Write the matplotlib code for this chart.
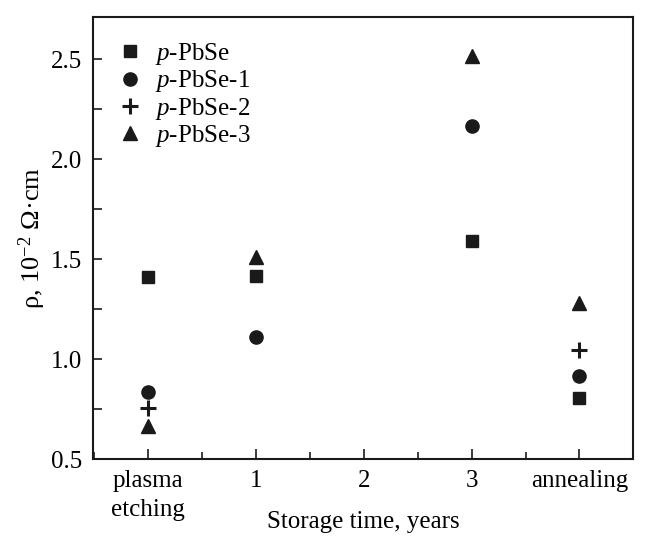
import matplotlib
matplotlib.use("Agg")
import matplotlib.pyplot as plt
from matplotlib.ticker import MultipleLocator

plt.rcParams['font.family'] = ['Liberation Serif', 'DejaVu Serif']
plt.rcParams['mathtext.fontset'] = 'custom'
plt.rcParams['mathtext.rm'] = 'Liberation Serif'
plt.rcParams['mathtext.it'] = 'Liberation Serif:italic'

categories = ["plasma\netching", "1", "2", "3", "annealing"]
x_pbse = [0, 1, 3, 4]
y_pbse = [1.41, 1.415, 1.59, 0.805]
x_pbse1 = [0, 1, 3, 4]
y_pbse1 = [0.835, 1.11, 2.165, 0.915]
x_pbse2 = [0, 4]
y_pbse2 = [0.755, 1.045]
x_pbse3 = [0, 1, 3, 4]
y_pbse3 = [0.665, 1.51, 2.515, 1.28]

FS = 18
fig = plt.figure(figsize=(6.5, 5.36), dpi=100)
ax = fig.add_axes([0.1435, 0.1431, 0.8308, 0.8252])

k = dict(color='#1a1a1a', linestyle='none')
ax.plot(x_pbse, y_pbse, marker='s', markersize=9, label='$p$-PbSe', **k)
ax.plot(x_pbse1, y_pbse1, marker='o', markersize=9.5, label='$p$-PbSe-1', **k)
ax.plot(x_pbse2, y_pbse2, marker='+', markersize=11.5, markeredgewidth=2.2, label='$p$-PbSe-2', **k)
ax.plot(x_pbse3, y_pbse3, marker='^', markersize=10, label='$p$-PbSe-3', **k)

ax.set_xlim(-0.51, 4.5)
ax.set_ylim(0.5, 2.71)
ax.set_xticks(range(len(categories)))
ax.set_xticklabels(categories, fontsize=FS, linespacing=1.4)
ax.xaxis.set_minor_locator(MultipleLocator(0.5))
ax.set_yticks([0.5, 1.0, 1.5, 2.0, 2.5])
ax.set_yticklabels(['0.5', '1.0', '1.5', '2.0', '2.5'], fontsize=FS)
ax.yaxis.set_minor_locator(MultipleLocator(0.25))
ax.tick_params(which='both', direction='in', top=False, right=False, width=1.2, color='#1a1a1a')
ax.tick_params(axis='x', which='major', length=7.5, pad=8)
ax.tick_params(axis='x', which='minor', length=5)
ax.tick_params(axis='y', which='both', length=6.5, pad=8)
for s in ax.spines.values():
    s.set_linewidth(1.5)
    s.set_color('#1a1a1a')

ax.set_xlabel('Storage time, years', fontsize=FS, labelpad=-7)
ax.set_ylabel('ρ, 10$^{-2}$ Ω·cm', fontsize=19, labelpad=2)

ax.legend(loc='upper left', bbox_to_anchor=(-0.013, 1.002), frameon=False, fontsize=FS,
          handletextpad=0.25, labelspacing=0.05, handlelength=1.5, borderaxespad=0.6)

fig.savefig('out.png', dpi=100)
